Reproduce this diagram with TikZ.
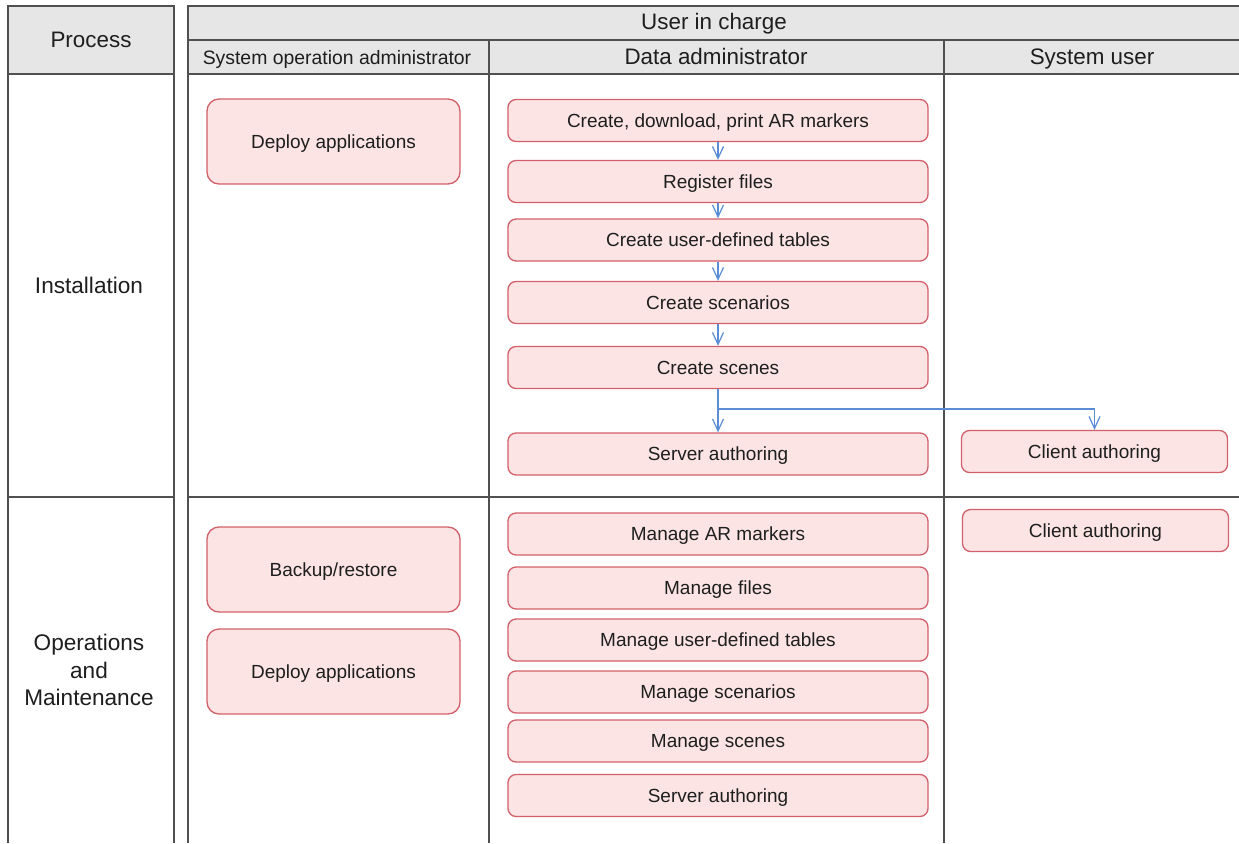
\documentclass[tikz,border=0pt]{standalone}
\usepackage{fontspec}
\setmainfont{Liberation Sans}
\usetikzlibrary{arrows.meta}
\definecolor{hdr}{HTML}{E6E6E6}
\definecolor{tline}{HTML}{505050}
\definecolor{bfill}{HTML}{FCE4E4}
\definecolor{bdraw}{HTML}{D2606A}
\definecolor{arrc}{HTML}{5B8DD6}
\definecolor{txt}{HTML}{1E1E1E}
\tikzset{
  tbl/.style={draw=tline, line width=1.3pt},
  hdrtext/.style={text=txt, font=\fontsize{22.4}{26}\selectfont, text height=16pt, text depth=0pt},
  subtext/.style={text=txt, font=\fontsize{19.4}{23}\selectfont, text height=14pt, text depth=0pt},
  rowtext/.style={text=txt, font=\fontsize{22.6}{27.5}\selectfont, align=center},
  box/.style={draw=bdraw, fill=bfill, line width=1.3pt, rounded corners=8pt,
    text=txt, font=\fontsize{19}{22}\selectfont, inner sep=0pt, text height=13.5pt, text depth=0pt},
  bigbox/.style={box, rounded corners=12pt, minimum width=253pt, minimum height=85pt},
  dbox/.style={box, minimum width=420pt, minimum height=42pt},
  cbox/.style={box, minimum width=266pt, minimum height=42pt},
  arr/.style={draw=arrc, line width=1.2pt, -{Straight Barb[length=12pt,width=11pt]}}
}
\begin{document}
\begin{tikzpicture}[x=1pt,y=-1pt]
\useasboundingbox (0,0) rectangle (1239,843);
\fill[white] (0,0) rectangle (1239,843);
% process column
\draw[tbl, fill=hdr] (8,6) rectangle (174,74);
\draw[tbl] (8,74) -- (8,843) (174,74) -- (174,843) (8,497) -- (174,497);
% main table
\draw[tbl, fill=hdr] (188,6) rectangle (1242,74);
\draw[tbl] (188,40) -- (1242,40);
\draw[tbl] (489,40) -- (489,843) (944,40) -- (944,843) (188,74) -- (188,843);
\draw[tbl] (188,497) -- (1242,497);
% header texts
\node[hdrtext] (process) at (91,40) {Process};
\node[hdrtext] (uic) at (714,22) {User in charge};
\node[subtext] (soa) at (337,57) {System operation administrator};
\node[hdrtext] (da) at (716,57) {Data administrator};
\node[hdrtext] (su) at (1092,57) {System user};
\node[rowtext] (inst) at (89,285) {Installation};
\node[rowtext] (ops) at (89,670) {Operations\\and\\Maintenance};
% installation
\node[bigbox] (dep1) at (333.5,141.5) {Deploy applications};
\node[dbox] (ar) at (718,120.5) {Create, download, print AR markers};
\node[dbox] (reg) at (718,181.5) {Register files};
\node[dbox] (udt) at (718,240) {Create user-defined tables};
\node[dbox] (scn) at (718,302.5) {Create scenarios};
\node[dbox] (sce) at (718,367.5) {Create scenes};
\node[dbox] (srv1) at (718,454) {Server authoring};
\node[cbox] (cli1) at (1094.5,451.5) {Client authoring};
\draw[arr] (ar.south) -- (reg.north);
\draw[arr] (reg.south) -- (udt.north);
\draw[arr] (udt.south) -- (scn.north);
\draw[arr] (scn.south) -- (sce.north);
\draw[arr] (sce.south) -- (srv1.north);
\coordinate (br) at (718,409);
\draw[arr] (br) -| (cli1.north);
% operations
\node[bigbox] (bak) at (333.5,569.5) {Backup/restore};
\node[bigbox] (dep2) at (333.5,671.5) {Deploy applications};
\node[dbox] (mar) at (718,534) {Manage AR markers};
\node[dbox] (mfi) at (718,588) {Manage files};
\node[dbox] (mudt) at (718,640) {Manage user-defined tables};
\node[dbox] (msc) at (718,692) {Manage scenarios};
\node[dbox] (msce) at (718,741) {Manage scenes};
\node[dbox] (srv2) at (718,795.5) {Server authoring};
\node[cbox] (cli2) at (1095.5,530.5) {Client authoring};
\end{tikzpicture}
\end{document}
